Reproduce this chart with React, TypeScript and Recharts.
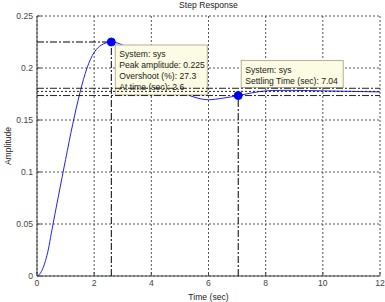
import React from 'react';
import {
  LineChart, Line, XAxis, YAxis, CartesianGrid,
  ReferenceLine, ReferenceDot
} from 'recharts';

// step response
const timeSec = [0, 0.1, 0.2, 0.3, 0.4, 0.5, 0.75, 1, 1.25, 1.5, 1.75, 2, 2.25, 2.6, 3, 3.5, 4, 4.5, 5, 5.5, 6, 6.5, 7.04, 7.5, 8, 8.5, 9, 10, 11, 12];
const amplitude = [0, 0.002, 0.007, 0.015, 0.026, 0.041, 0.077, 0.112, 0.146, 0.176, 0.2, 0.215, 0.222, 0.225, 0.222, 0.212, 0.2, 0.188, 0.178, 0.172, 0.1695, 0.171, 0.1735, 0.176, 0.178, 0.1785, 0.1785, 0.178, 0.1775, 0.177];

const xTicks = [0, 2, 4, 6, 8, 10, 12];
const yTicks = [0, 0.05, 0.1, 0.15, 0.2, 0.25];

const peakPoint = [2.6, 0.225];
const settlePoint = [7.04, 0.1735];
const bandLevels = [0.1805, 0.1775, 0.1735];

const peakTip = ['System: sys', 'Peak amplitude: 0.225', 'Overshoot (%): 27.3', 'At time (sec): 2.6'];
const settleTip = ['System: sys', 'Settling Time (sec): 7.04'];

const data = timeSec.map((t, i) => ({ t, y: amplitude[i] }));

const FONT = '"Liberation Sans", Arial, sans-serif';
const DASH_DOT = '7 2 2 2';

const TipBox = (props: any) => {
  const { cx, cy, lines, bx, by, bw, bh, tx, ty } = props;
  return (
    <g>
      <rect x={cx + bx} y={cy + by} width={bw} height={bh} fill="#fcfbe3" stroke="#b5ae96" />
      {lines.map((l: string, i: number) => (
        <text key={i} x={cx + tx} y={cy + ty + i * 11} fontSize={8.6} fontFamily={FONT} fill="#222">
          {l}
        </text>
      ))}
    </g>
  );
};

const tickStyle = { fontSize: 8.6, fontFamily: FONT, fill: '#444' };

export default function App() {
  return (
    <div style={{ position: 'relative', width: 385, height: 302, background: '#fff', fontFamily: FONT }}>
      <style>{'body{margin:0}'}</style>
      <LineChart width={385} height={302} data={data} margin={{ top: 16, right: 5, bottom: 0, left: 0 }}>
        <CartesianGrid stroke="#555" strokeDasharray="2 2" />
        <XAxis dataKey="t" type="number" domain={[0, 12]} ticks={xTicks} height={26}
          tickSize={-4} tickMargin={8} stroke="#444" tick={tickStyle} />
        <XAxis xAxisId="t" orientation="top" dataKey="t" type="number" domain={[0, 12]} ticks={xTicks}
          height={0} tickSize={-4} tick={false} stroke="#444" />
        <YAxis type="number" domain={[0, 0.25]} ticks={yTicks} width={37}
          tickSize={-4} tickMargin={8} stroke="#444" tick={tickStyle} />
        <YAxis yAxisId="r" orientation="right" type="number" domain={[0, 0.25]} ticks={yTicks}
          width={0} tickSize={-4} tick={false} stroke="#444" />
        <Line dataKey="y" type="monotone" stroke="#1f1fff" strokeWidth={1} dot={false} isAnimationActive={false} />
        <ReferenceDot x={peakPoint[0]} y={peakPoint[1]} r={1} zIndex={450}
          shape={(p: any) => <TipBox {...p} lines={peakTip} bx={4} by={3} bw={92} bh={50} tx={8} ty={15} />} />
        <ReferenceDot x={settlePoint[0]} y={settlePoint[1]} r={1} zIndex={450}
          shape={(p: any) => <TipBox {...p} lines={settleTip} bx={3} by={-35} bw={102} bh={27} tx={7} ty={-22.5} />} />
        <ReferenceLine segment={[{ x: 0, y: peakPoint[1] }, { x: peakPoint[0], y: peakPoint[1] }]}
          stroke="#000" strokeDasharray={DASH_DOT} zIndex={500} />
        <ReferenceLine segment={[{ x: peakPoint[0], y: 0 }, { x: peakPoint[0], y: peakPoint[1] }]}
          stroke="#000" strokeDasharray={DASH_DOT} zIndex={500} />
        <ReferenceLine segment={[{ x: settlePoint[0], y: 0 }, { x: settlePoint[0], y: settlePoint[1] }]}
          stroke="#000" strokeDasharray={DASH_DOT} zIndex={500} />
        {bandLevels.map((v, i) => (
          <ReferenceLine key={i} y={v} stroke="#222" strokeDasharray={i === 1 ? '2 2' : DASH_DOT} zIndex={500} />
        ))}
        <ReferenceDot x={peakPoint[0]} y={peakPoint[1]} r={4} fill="#0000ff" stroke="#0000ff" zIndex={600} />
        <ReferenceDot x={settlePoint[0]} y={settlePoint[1]} r={4} fill="#0000ff" stroke="#0000ff" zIndex={600} />
      </LineChart>
      <div style={{ position: 'absolute', left: 37, width: 343, top: 0, textAlign: 'center', fontSize: 8.6, lineHeight: '11px', color: '#222' }}>
        Step Response
      </div>
      <div style={{ position: 'absolute', left: 37, width: 343, top: 292, textAlign: 'center', fontSize: 8.6, lineHeight: '11px', color: '#222' }}>
        Time (sec)
      </div>
      <div style={{ position: 'absolute', left: 7.5, top: 146, transform: 'translate(-50%, -50%) rotate(-90deg)', fontSize: 8.6, lineHeight: '11px', color: '#222', whiteSpace: 'nowrap' }}>
        Amplitude
      </div>
    </div>
  );
}
